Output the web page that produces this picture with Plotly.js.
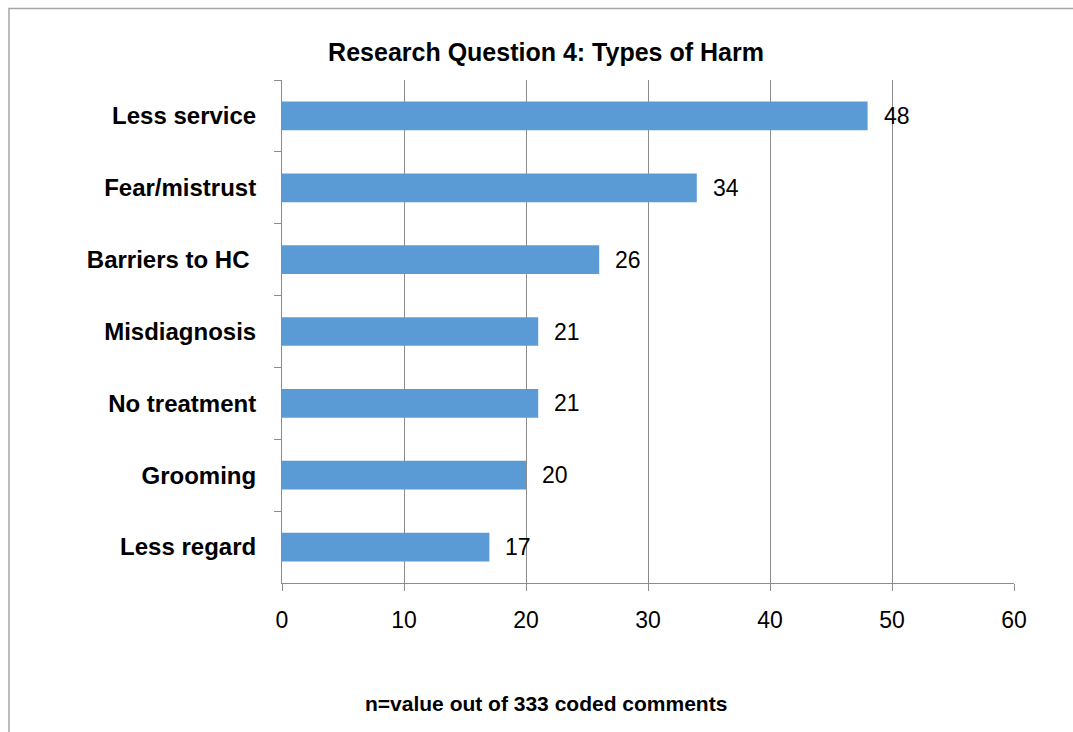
<!DOCTYPE html>
<html>
<head>
<meta charset="utf-8">
<script src="https://cdn.plot.ly/plotly-3.0.1.min.js"></script>
<style>
  html, body { margin: 0; padding: 0; background: #ffffff; overflow: hidden; }
  #chart { width: 1073px; height: 732px; }
</style>
</head>
<body>
<div id="chart"></div>
<script>
// Harm categories, listed top to bottom
const harmTypes = [
  "Less service",
  "Fear/mistrust",
  "Barriers to HC\u00a0",
  "Misdiagnosis",
  "No treatment",
  "Grooming",
  "Less regard"
];
// Number of coded comments per category
const commentCounts = [48, 34, 26, 21, 21, 20, 17];
// Value axis ticks
const countTicks = [0, 10, 20, 30, 40, 50, 60];

const FONT = "Liberation Sans, Arial, sans-serif";
const GRID = "#8c8c8c";

const trace = {
  type: "bar",
  orientation: "h",
  x: commentCounts,
  y: harmTypes,
  marker: { color: "#5B9BD5", line: { width: 0 } },
  hoverinfo: "x+y"
};

// Value labels placed just right of each bar end
const valueLabels = commentCounts.map((v, i) => ({
  x: v,
  y: harmTypes[i],
  xref: "x",
  yref: "y",
  text: String(v),
  showarrow: false,
  xanchor: "left",
  yanchor: "middle",
  xshift: 14,
  font: { family: FONT, size: 23, color: "#000000" }
}));

const layout = {
  width: 1073,
  height: 732,
  margin: { l: 282, r: 59, t: 80, b: 149 },
  paper_bgcolor: "#ffffff",
  plot_bgcolor: "#ffffff",
  showlegend: false,
  bargap: 0.6,
  font: { family: FONT, color: "#000000" },
  title: {
    text: "<b>Research Question 4: Types of Harm</b>",
    font: { family: FONT, size: 25, color: "#000000" },
    xref: "container",
    yref: "container",
    x: 546 / 1073,
    xanchor: "center",
    y: 1 - 52 / 732,
    yanchor: "middle"
  },
  xaxis: {
    range: [0, 60],
    tickvals: countTicks,
    ticktext: countTicks.map(String),
    showgrid: true,
    gridcolor: GRID,
    gridwidth: 1,
    zeroline: false,
    showline: true,
    linecolor: GRID,
    linewidth: 1,
    ticks: "outside",
    ticklen: 7,
    tickcolor: GRID,
    tickwidth: 1,
    ticklabelstandoff: 9,
    tickfont: { family: FONT, size: 23, color: "#000000" },
    fixedrange: true
  },
  yaxis: {
    type: "category",
    autorange: "reversed",
    showgrid: false,
    zeroline: false,
    showline: true,
    linecolor: GRID,
    linewidth: 1,
    ticks: "outside",
    tickson: "boundaries",
    ticklen: 7,
    tickcolor: GRID,
    tickwidth: 1,
    ticklabelstandoff: 20,
    tickfont: { family: FONT, size: 24, color: "#000000", weight: "bold" },
    fixedrange: true
  },
  annotations: valueLabels.concat([
    {
      text: "<b>n=value out of 333 coded comments</b>",
      xref: "paper",
      yref: "paper",
      x: (546 - 282) / 732,
      y: (583 - 703) / 503,
      xanchor: "center",
      yanchor: "middle",
      showarrow: false,
      font: { family: FONT, size: 21, color: "#000000" }
    }
  ]),
  shapes: [
    {
      // chart frame
      type: "rect",
      xref: "paper",
      yref: "paper",
      x0: (9 - 282) / 732,
      x1: (1090 - 282) / 732,
      y0: (583 - 8.5) / 503,
      y1: (583 - 745) / 503,
      line: { color: "#a6a6a6", width: 1.5 },
      fillcolor: "rgba(0,0,0,0)",
      layer: "below"
    }
  ]
};

Plotly.newPlot("chart", [trace], layout, { staticPlot: true, displayModeBar: false });
</script>
</body>
</html>
